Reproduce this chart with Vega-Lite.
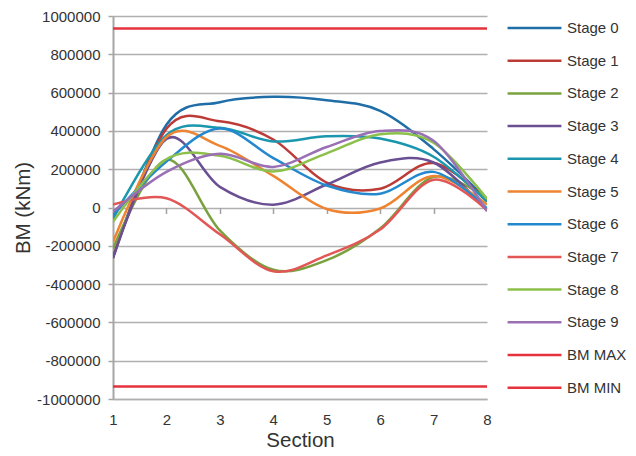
{
  "$schema": "https://vega.github.io/schema/vega-lite/v6.json",
  "width": 374,
  "height": 383,
  "autosize": {"type": "none"},
  "padding": {"left": 113, "top": 16, "right": 149, "bottom": 57},
  "background": "white",
  "config": {
    "view": {"stroke": null},
    "font": "Liberation Sans",
    "axis": {"labelFont": "Liberation Sans", "titleFont": "Liberation Sans", "labelColor": "#333333", "titleColor": "#333333", "titleFontWeight": "normal"},
    "legend": {"labelFont": "Liberation Sans", "labelColor": "#333333"}
  },
  "datasets": {
    "bm": [
      {"series": "Stage 0", "section": 1, "bm": -260000},
      {"series": "Stage 0", "section": 2, "bm": 432000},
      {"series": "Stage 0", "section": 3, "bm": 550000},
      {"series": "Stage 0", "section": 4, "bm": 578000},
      {"series": "Stage 0", "section": 5, "bm": 560000},
      {"series": "Stage 0", "section": 6, "bm": 505000},
      {"series": "Stage 0", "section": 7, "bm": 305000},
      {"series": "Stage 0", "section": 8, "bm": 40000},
      {"series": "Stage 1", "section": 1, "bm": -260000},
      {"series": "Stage 1", "section": 2, "bm": 411000},
      {"series": "Stage 1", "section": 3, "bm": 450000},
      {"series": "Stage 1", "section": 4, "bm": 355000},
      {"series": "Stage 1", "section": 5, "bm": 130000},
      {"series": "Stage 1", "section": 6, "bm": 98000},
      {"series": "Stage 1", "section": 7, "bm": 232000},
      {"series": "Stage 1", "section": 8, "bm": 35000},
      {"series": "Stage 2", "section": 1, "bm": -215000},
      {"series": "Stage 2", "section": 2, "bm": 250000},
      {"series": "Stage 2", "section": 3, "bm": -120000},
      {"series": "Stage 2", "section": 4, "bm": -325000},
      {"series": "Stage 2", "section": 5, "bm": -275000},
      {"series": "Stage 2", "section": 6, "bm": -110000},
      {"series": "Stage 2", "section": 7, "bm": 160000},
      {"series": "Stage 2", "section": 8, "bm": 45000},
      {"series": "Stage 3", "section": 1, "bm": -265000},
      {"series": "Stage 3", "section": 2, "bm": 358000},
      {"series": "Stage 3", "section": 3, "bm": 108000},
      {"series": "Stage 3", "section": 4, "bm": 15000},
      {"series": "Stage 3", "section": 5, "bm": 120000},
      {"series": "Stage 3", "section": 6, "bm": 235000},
      {"series": "Stage 3", "section": 7, "bm": 235000},
      {"series": "Stage 3", "section": 8, "bm": -15000},
      {"series": "Stage 4", "section": 1, "bm": -60000},
      {"series": "Stage 4", "section": 2, "bm": 377000},
      {"series": "Stage 4", "section": 3, "bm": 416000},
      {"series": "Stage 4", "section": 4, "bm": 345000},
      {"series": "Stage 4", "section": 5, "bm": 372000},
      {"series": "Stage 4", "section": 6, "bm": 360000},
      {"series": "Stage 4", "section": 7, "bm": 265000},
      {"series": "Stage 4", "section": 8, "bm": 30000},
      {"series": "Stage 5", "section": 1, "bm": -180000},
      {"series": "Stage 5", "section": 2, "bm": 368000},
      {"series": "Stage 5", "section": 3, "bm": 322000},
      {"series": "Stage 5", "section": 4, "bm": 165000},
      {"series": "Stage 5", "section": 5, "bm": -8000},
      {"series": "Stage 5", "section": 6, "bm": -5000},
      {"series": "Stage 5", "section": 7, "bm": 165000},
      {"series": "Stage 5", "section": 8, "bm": 15000},
      {"series": "Stage 6", "section": 1, "bm": -40000},
      {"series": "Stage 6", "section": 2, "bm": 240000},
      {"series": "Stage 6", "section": 3, "bm": 413000},
      {"series": "Stage 6", "section": 4, "bm": 258000},
      {"series": "Stage 6", "section": 5, "bm": 115000},
      {"series": "Stage 6", "section": 6, "bm": 72000},
      {"series": "Stage 6", "section": 7, "bm": 186000},
      {"series": "Stage 6", "section": 8, "bm": -5000},
      {"series": "Stage 7", "section": 1, "bm": 15000},
      {"series": "Stage 7", "section": 2, "bm": 48000},
      {"series": "Stage 7", "section": 3, "bm": -140000},
      {"series": "Stage 7", "section": 4, "bm": -333000},
      {"series": "Stage 7", "section": 5, "bm": -250000},
      {"series": "Stage 7", "section": 6, "bm": -115000},
      {"series": "Stage 7", "section": 7, "bm": 145000},
      {"series": "Stage 7", "section": 8, "bm": -15000},
      {"series": "Stage 8", "section": 1, "bm": -75000},
      {"series": "Stage 8", "section": 2, "bm": 252000},
      {"series": "Stage 8", "section": 3, "bm": 270000},
      {"series": "Stage 8", "section": 4, "bm": 188000},
      {"series": "Stage 8", "section": 5, "bm": 283000},
      {"series": "Stage 8", "section": 6, "bm": 383000},
      {"series": "Stage 8", "section": 7, "bm": 338000},
      {"series": "Stage 8", "section": 8, "bm": 45000},
      {"series": "Stage 9", "section": 1, "bm": -22000},
      {"series": "Stage 9", "section": 2, "bm": 186000},
      {"series": "Stage 9", "section": 3, "bm": 281000},
      {"series": "Stage 9", "section": 4, "bm": 212000},
      {"series": "Stage 9", "section": 5, "bm": 316000},
      {"series": "Stage 9", "section": 6, "bm": 400000},
      {"series": "Stage 9", "section": 7, "bm": 348000},
      {"series": "Stage 9", "section": 8, "bm": -20000},
      {"series": "BM MAX", "section": 1, "bm": 935000},
      {"series": "BM MAX", "section": 2, "bm": 935000},
      {"series": "BM MAX", "section": 3, "bm": 935000},
      {"series": "BM MAX", "section": 4, "bm": 935000},
      {"series": "BM MAX", "section": 5, "bm": 935000},
      {"series": "BM MAX", "section": 6, "bm": 935000},
      {"series": "BM MAX", "section": 7, "bm": 935000},
      {"series": "BM MAX", "section": 8, "bm": 935000},
      {"series": "BM MIN", "section": 1, "bm": -935000},
      {"series": "BM MIN", "section": 2, "bm": -935000},
      {"series": "BM MIN", "section": 3, "bm": -935000},
      {"series": "BM MIN", "section": 4, "bm": -935000},
      {"series": "BM MIN", "section": 5, "bm": -935000},
      {"series": "BM MIN", "section": 6, "bm": -935000},
      {"series": "BM MIN", "section": 7, "bm": -935000},
      {"series": "BM MIN", "section": 8, "bm": -935000}
    ]
  },
  "data": {"name": "bm"},
  "resolve": {"axis": {"x": "independent"}},
  "layer": [
    {
      "mark": {"type": "line", "interpolate": "cardinal", "tension": 0, "strokeWidth": 2.5, "clip": true},
      "encoding": {
        "x": {
          "field": "section", "type": "quantitative",
          "scale": {"domain": [1, 8], "nice": false, "zero": false},
          "axis": {
            "orient": "bottom",
            "title": "Section", "titleFontSize": 20.5, "titlePadding": 3,
            "values": [1, 2, 3, 4, 5, 6, 7, 8], "format": "d",
            "labelFontSize": 15, "labelPadding": 13, "ticks": false,
            "grid": false, "domainColor": "#b0b0b0", "domainWidth": 1.5,
            "labelFlush": false
          }
        },
        "y": {
          "field": "bm", "type": "quantitative",
          "scale": {"domain": [-1000000, 1000000], "nice": false},
          "axis": {
            "title": "BM (kNm)", "titleFontSize": 20.5, "titlePadding": 3,
            "values": [-1000000, -800000, -600000, -400000, -200000, 0, 200000, 400000, 600000, 800000, 1000000],
            "format": "d", "labelExpr": "replace(datum.label, '−', '-')",
            "labelOverlap": false, "labelFontSize": 15, "labelPadding": 8,
            "grid": true, "gridColor": "#b0b0b0", "gridWidth": 1.5,
            "domainColor": "#a6a6a6", "domainWidth": 2,
            "tickColor": "#a6a6a6", "tickSize": 5, "tickWidth": 1.5
          }
        },
        "color": {
          "field": "series", "type": "nominal",
          "scale": {
            "domain": ["Stage 0", "Stage 1", "Stage 2", "Stage 3", "Stage 4", "Stage 5", "Stage 6", "Stage 7", "Stage 8", "Stage 9", "BM MAX", "BM MIN"],
            "range": ["#1f6ea8", "#bd3b37", "#79a13e", "#6b4f93", "#1a97ae", "#ee8431", "#2488cf", "#e25656", "#8cc04b", "#9a70b5", "#e5323d", "#e5323d"]
          },
          "legend": {
            "title": null, "orient": "none", "legendX": 393, "legendY": 2,
            "symbolType": "stroke", "symbolSize": 2900, "symbolStrokeWidth": 2.5,
            "clipHeight": 20,
            "labelFontSize": 15, "labelOffset": 4, "rowPadding": 12.7
          }
        }
      }
    },
    {
      "mark": {"type": "line", "opacity": 0},
      "encoding": {
        "x": {
          "field": "section", "type": "quantitative",
          "axis": {
            "orient": "top", "offset": -191.5, "title": null,
            "values": [2, 3, 4, 5, 6, 7], "labels": false, "domain": false,
            "ticks": true, "tickSize": -6, "tickColor": "#a0a0a0", "tickWidth": 1.5,
            "grid": false
          }
        },
        "y": {"value": 0},
        "detail": {"field": "series"}
      }
    }
  ]
}
